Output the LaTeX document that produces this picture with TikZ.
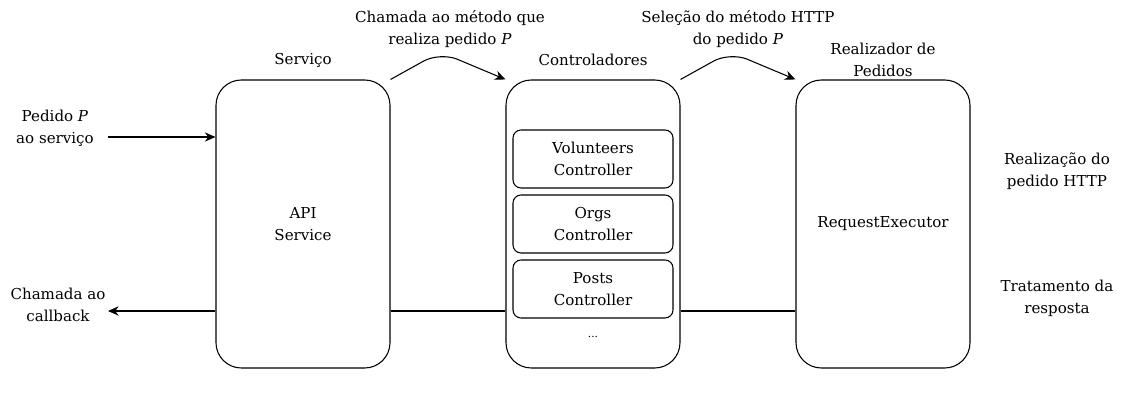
\documentclass[tikz,border=0pt]{standalone}
\usepackage{fontspec}
\setmainfont{DejaVu Serif}
\usepackage{tikz}
\usetikzlibrary{arrows.meta, positioning}

\begin{document}
\begin{tikzpicture}[
    x=0.75pt, y=-0.75pt,
    block/.style={rectangle, rounded corners=19pt, draw, thick, minimum width=130.5pt, minimum height=216pt},
    ctrl/.style={rectangle, rounded corners=6pt, draw, thick, minimum width=120pt, minimum height=43.5pt, align=center},
    arr/.style={-{Stealth[length=8pt, width=7pt]}, thick},
    every node/.style={font=\fontsize{11.3}{16.5}\selectfont, align=center}
]
\useasboundingbox (0,0) rectangle (1122,402);

\node[block] (svc) at (303,224) {API\\Service};
\node[block] (ctl) at (593,224) {};
\node[block] (exe) at (883,224) {RequestExecutor};

\node (svclbl) at (303,60) {Serviço};
\node (ctllbl) at (593,60) {Controladores};
\node (exelbl) at (883,60) {Realizador de\\Pedidos};

\node[ctrl] (vol) at (593,159) {Volunteers\\Controller};
\node[ctrl] (org) at (593,224) {Orgs\\Controller};
\node[ctrl] (pst) at (593,289) {Posts\\Controller};
\node[font=\footnotesize] (more) at (593,337) {...};

% entrada e callback
\coordinate (req) at (108,137);
\coordinate (cb) at (108,311);
\node (reqlbl) at (55,128) {Pedido \textit{P}\\ao serviço};
\node (cblbl) at (58,305) {Chamada ao\\callback};
\draw[arr] (req) -- (svc.west |- req);
\draw[arr] (svc.west |- cb) -- (cb);
\draw[thick] (svc.east |- cb) -- (ctl.west |- cb);
\draw[thick] (ctl.east |- cb) -- (exe.west |- cb);

% chamadas entre blocos
\draw[arr, rounded corners=14pt] (svc.north east) -- (440,52) -- (ctl.north west);
\draw[arr, rounded corners=14pt] (ctl.north east) -- (730,52) -- (exe.north west);
\node (calllbl) at (450,29) {Chamada ao método que\\realiza pedido \textit{P}};
\node (sellbl) at (738,29) {Seleção do método HTTP\\do pedido \textit{P}};

\node (httplbl) at (1057,171) {Realização do\\pedido HTTP};
\node (resplbl) at (1057,298) {Tratamento da\\resposta};

\end{tikzpicture}
\end{document}
